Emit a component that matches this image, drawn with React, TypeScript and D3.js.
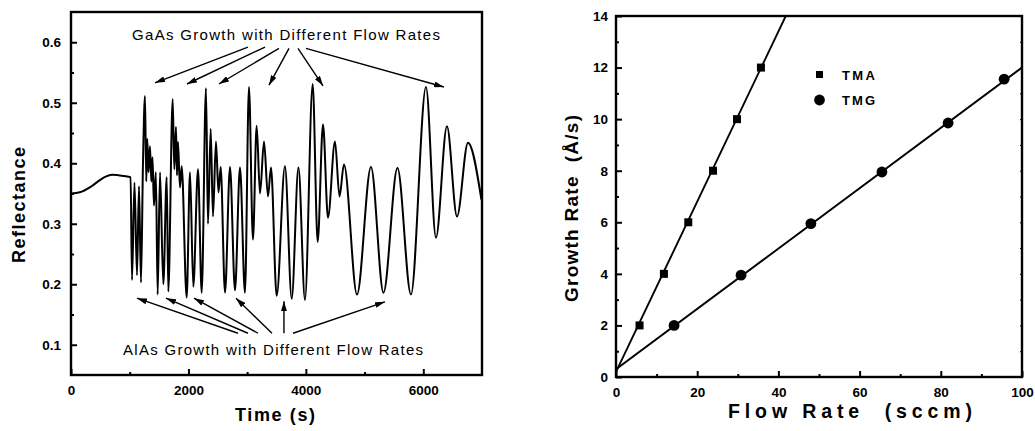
import React, { useEffect, useRef } from "react";
import * as d3 from "d3";

// left panel: in-situ reflectance trace (extrema)
const timeS = [
  0, 150, 350, 550, 700, 900, 1015, 1039, 1081, 1124, 1158, 1192, 1226, 1260, 1282, 1299,
  1320, 1345, 1368, 1388, 1413, 1445, 1476, 1516, 1572, 1630, 1657, 1732, 1759, 1788, 1805,
  1822, 1856, 1885, 1970, 2027, 2083, 2163, 2226, 2299, 2333, 2379, 2418, 2469, 2512, 2549,
  2623, 2708, 2793, 2878, 2963, 3031, 3099, 3162, 3219, 3287, 3355, 3406, 3503, 3644, 3759,
  3874, 3985, 4116, 4201, 4292, 4377, 4496, 4573, 4649, 4871, 5109, 5322, 5560, 5790, 6046,
  6216, 6403, 6574, 6761, 6990
];
const reflectance = [
  0.35, 0.352, 0.362, 0.376, 0.381, 0.379, 0.377, 0.207, 0.368, 0.215, 0.362, 0.203, 0.4, 0.511, 0.37, 0.44,
  0.385, 0.428, 0.37, 0.41, 0.33, 0.385, 0.183, 0.385, 0.2, 0.377, 0.188, 0.506, 0.39, 0.46, 0.38,
  0.435, 0.36, 0.395, 0.178, 0.385, 0.196, 0.39, 0.186, 0.524, 0.3, 0.457, 0.312, 0.436, 0.352, 0.394,
  0.186, 0.394, 0.19, 0.393, 0.186, 0.526, 0.274, 0.462, 0.35, 0.436, 0.345, 0.393, 0.181, 0.395, 0.176,
  0.393, 0.174, 0.531, 0.27, 0.464, 0.31, 0.436, 0.345, 0.398, 0.183, 0.394, 0.186, 0.392, 0.183, 0.526,
  0.277, 0.461, 0.312, 0.434, 0.34
];
const reflTicks = [0.1, 0.2, 0.3, 0.4, 0.5, 0.6];
const timeTicks = [0, 2000, 4000, 6000];

// annotation arrows (data units): [t0, r0, t1, r1]
const gaasArrows = [
  [3014, 0.592, 1431, 0.533],
  [3304, 0.592, 1975, 0.531],
  [3542, 0.59, 2520, 0.531],
  [3713, 0.59, 3372, 0.529],
  [3866, 0.59, 4292, 0.528],
  [4002, 0.59, 6352, 0.526]
];
const alasArrows = [
  [2844, 0.119, 1124, 0.177],
  [3014, 0.119, 1618, 0.177],
  [3185, 0.119, 2095, 0.177],
  [3423, 0.119, 2810, 0.177],
  [3627, 0.119, 3627, 0.172],
  [3781, 0.119, 5347, 0.171]
];
const gaasLabel = "GaAs Growth with Different Flow Rates";
const alasLabel = "AlAs Growth with Different Flow Rates";

// right panel: growth rate vs flow rate
const tmaFlow = [5.8, 11.8, 17.8, 23.9, 29.8, 35.7];
const tmaRate = [2, 4, 6, 8, 10, 12];
const tmgFlow = [14.3, 30.8, 48, 65.5, 81.8, 95.6];
const tmgRate = [2.0, 3.95, 5.95, 7.95, 9.85, 11.55];
const tmaFit = [0.2, 0.33]; // intercept, slope
const tmgFit = [0.3, 0.117];
const rateTicks = [0, 2, 4, 6, 8, 10, 12, 14];
const flowTicks = [0, 20, 40, 60, 80, 100];

const FONT = "'Liberation Sans', Arial, sans-serif";

const App = () => {
  const leftRef = useRef<SVGGElement>(null);
  const rightRef = useRef<SVGGElement>(null);

  const xL = d3.scaleLinear().domain([0, 7000]).range([71, 482]);
  const yL = d3.scaleLinear().domain([0.05, 0.65]).range([375, 12]);
  const xR = d3.scaleLinear().domain([0, 100]).range([616, 1022]);
  const yR = d3.scaleLinear().domain([0, 14]).range([377, 16]);

  useEffect(() => {
    const styleAxis = (sel: any, w = 2) => {
      sel.select(".domain").remove();
      sel.selectAll("line").attr("stroke", "#000").attr("stroke-width", w);
      sel.selectAll("text").attr("font-family", FONT).attr("font-weight", "bold").attr("font-size", 13.5).attr("fill", "#000");
    };

    const g = d3.select(leftRef.current);
    g.selectAll("*").remove();
    g.append("g").attr("transform", `translate(${xL(0)},0)`)
      .call(d3.axisLeft(yL).tickValues(reflTicks).tickSize(-6).tickPadding(10).tickFormat(d3.format(".1f")))
      .call(styleAxis);
    g.append("g").attr("transform", `translate(${xL(0)},0)`)
      .call(d3.axisLeft(yL).tickValues(d3.range(0.15, 0.65, 0.1)).tickSize(-3).tickFormat(() => ""))
      .call(styleAxis);
    g.append("g").attr("transform", `translate(0,${yL(0.05)})`)
      .call(d3.axisBottom(xL).tickValues(timeTicks).tickSize(-6).tickPadding(10).tickFormat(d3.format("d")))
      .call(styleAxis);
    g.append("g").attr("transform", `translate(0,${yL(0.05)})`)
      .call(d3.axisBottom(xL).tickValues([1000, 3000, 5000]).tickSize(-3).tickFormat(() => ""))
      .call(styleAxis);

    const r = d3.select(rightRef.current);
    r.selectAll("*").remove();
    r.append("g").attr("transform", `translate(${xR(0)},0)`)
      .call(d3.axisLeft(yR).tickValues(rateTicks).tickSize(-6).tickPadding(8).tickFormat(d3.format("d")))
      .call(styleAxis);
    r.append("g").attr("transform", `translate(${xR(0)},0)`)
      .call(d3.axisLeft(yR).tickValues(d3.range(1, 14, 2)).tickSize(-3).tickFormat(() => ""))
      .call(styleAxis);
    r.append("g").attr("transform", `translate(${xR(100)},0)`)
      .call(d3.axisRight(yR).tickValues(d3.range(1, 14, 1)).tickSize(-2).tickFormat(() => ""))
      .call((s: any) => styleAxis(s, 1));
    r.append("g").attr("transform", `translate(0,${yR(0)})`)
      .call(d3.axisBottom(xR).tickValues(flowTicks).tickSize(-6).tickPadding(10).tickFormat(d3.format("d")))
      .call(styleAxis);
    r.append("g").attr("transform", `translate(0,${yR(0)})`)
      .call(d3.axisBottom(xR).tickValues(d3.range(10, 100, 20)).tickSize(-3).tickFormat(() => ""))
      .call(styleAxis);
  }, []);

  const reflLine = d3.line<number>()
    .x((d, i) => xL(timeS[i]))
    .y(d => yL(d))
    .curve(d3.curveMonotoneX);

  const fitLine = (fit: number[]) =>
    d3.line<number>().x(d => xR(d)).y(d => yR(fit[0] + fit[1] * d))([0, 100]) || "";

  return (
    <svg width={1035} height={431} style={{ position: "absolute", left: 0, top: 0, background: "#fff" }}>
      <defs>
        <marker id="arr" viewBox="0 0 10 6" refX="10" refY="3" markerWidth="10" markerHeight="6"
          markerUnits="userSpaceOnUse" orient="auto">
          <path d="M0,0 L10,3 L0,6 Z" fill="#000" />
        </marker>
        <clipPath id="clipR">
          <rect x={xR(0)} y={yR(14)} width={xR(100) - xR(0)} height={yR(0) - yR(14)} />
        </clipPath>
        <clipPath id="clipL">
          <rect x={xL(0)} y={yL(0.65)} width={xL(7000) - xL(0)} height={yL(0.05) - yL(0.65)} />
        </clipPath>
      </defs>

      {/* left panel */}
      <path d={reflLine(reflectance) || ""} fill="none" stroke="#000" strokeWidth={2}
        strokeLinejoin="round" clipPath="url(#clipL)" />
      <rect x={xL(0)} y={yL(0.65)} width={xL(7000) - xL(0)} height={yL(0.05) - yL(0.65)}
        fill="none" stroke="#000" strokeWidth={2.4} />
      <g ref={leftRef} />
      <text x={xL(1039)} y={yL(0.604)} fontFamily={FONT} fontSize={15} textLength={308}
        lengthAdjust="spacing">{gaasLabel}</text>
      <text x={xL(886)} y={yL(0.083)} fontFamily={FONT} fontSize={15} textLength={300}
        lengthAdjust="spacing">{alasLabel}</text>
      {gaasArrows.concat(alasArrows).map((a, i) => (
        <line key={i} x1={xL(a[0])} y1={yL(a[1])} x2={xL(a[2])} y2={yL(a[3])}
          stroke="#000" strokeWidth={1.4} markerEnd="url(#arr)" />
      ))}
      <text transform="translate(25,205) rotate(-90)" x={-58} fontFamily={FONT} fontWeight="bold"
        fontSize={18} textLength={116} lengthAdjust="spacing">Reflectance</text>
      <text x={235} y={421} fontFamily={FONT} fontWeight="bold" fontSize={18}
        textLength={80} lengthAdjust="spacing" style={{ whiteSpace: "pre" }}>Time (s)</text>

      {/* right panel */}
      <g clipPath="url(#clipR)">
        <path d={fitLine(tmaFit)} fill="none" stroke="#000" strokeWidth={1.9} />
        <path d={fitLine(tmgFit)} fill="none" stroke="#000" strokeWidth={1.9} />
      </g>
      {tmaFlow.map((f, i) => (
        <rect key={"a" + i} x={xR(f) - 4} y={yR(tmaRate[i]) - 4} width={8} height={8} fill="#000" />
      ))}
      {tmgFlow.map((f, i) => (
        <circle key={"g" + i} cx={xR(f)} cy={yR(tmgRate[i])} r={5.4} fill="#000" />
      ))}
      <rect x={xR(0)} y={yR(14)} width={xR(100) - xR(0)} height={yR(0) - yR(14)}
        fill="none" stroke="#000" strokeWidth={2.4} />
      <g ref={rightRef} />
      <rect x={816} y={71} width={7} height={7} fill="#000" />
      <text x={842} y={79.5} fontFamily={FONT} fontWeight="bold" fontSize={13} textLength={33}
        lengthAdjust="spacing">TMA</text>
      <circle cx={819.5} cy={100} r={5.4} fill="#000" />
      <text x={842} y={104.5} fontFamily={FONT} fontWeight="bold" fontSize={13} textLength={33}
        lengthAdjust="spacing">TMG</text>
      <text transform="translate(578,302) rotate(-90)" fontFamily={FONT} fontWeight="bold" fontSize={19}
        textLength={187} lengthAdjust="spacing" style={{ whiteSpace: "pre" }}>Growth Rate  (Å/s)</text>
      <text x={728} y={418} fontFamily={FONT} fontWeight="bold" fontSize={19.5}
        textLength={244} lengthAdjust="spacing" style={{ whiteSpace: "pre" }}>Flow Rate  (sccm)</text>
    </svg>
  );
};

export default App;
